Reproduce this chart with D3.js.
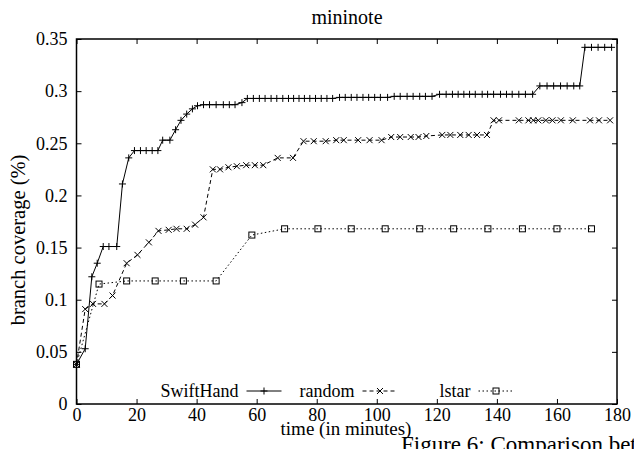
<!DOCTYPE html>
<html><head><meta charset="utf-8">
<script src="https://cdn.jsdelivr.net/npm/d3@7"></script>
<style>body{margin:0;background:#fff}svg{display:block;font-family:"Liberation Serif","Times New Roman",serif}text{font-family:"Liberation Serif","Times New Roman",serif;fill:#000}</style>
</head><body><svg id="c" width="634" height="449"></svg>
<script>
const title = "mininote";
const xLabel = "time (in minutes)";
const yLabel = "branch coverage (%)";
const caption = "Figure 6: Comparison between";
const xTicks = [0,20,40,60,80,100,120,140,160,180];
const yTicks = [0,0.05,0.1,0.15,0.2,0.25,0.3,0.35];
const yTickLabels = ["0","0.05","0.1","0.15","0.2","0.25","0.3","0.35"];
const seriesNames = ["SwiftHand","random","lstar"];

const swiftT = [0,2.9,5.1,6.9,8.9,10.8,13.4,15.3,17.4,19.3,21.3,23.2,25.2,27.1,28.7,31.1,33,34.8,36.7,38.6,40.3,42.3,44.3,46.5,48.9,50.9,52.8,55.1,56.9,
  58.9,60.9,62.8,64.8,66.7,68.7,70.6,72.3,74.1,75.9,77.7,79.6,81.5,83.4,85.3,
  87.6,89.5,91.5,93.4,95.4,97.3,99.3,101.2,103.6,
  105.8,107.8,110.1,112.1,114.3,116.2,118.4,
  120.9,123.1,125.2,127.1,129,130.9,132.8,135.1,136.9,138.9,141.2,143.2,145.1,147.3,149.5,151.9,
  154.3,156.7,158.9,161.2,163.4,165.6,167.6,
  169.3,171.5,173.7,175.9,178.2];
const swiftV = [0.038,0.053,0.122,0.135,0.151,0.151,0.151,0.211,0.236,0.243,0.243,0.243,0.243,0.243,0.253,0.253,0.263,0.272,0.278,0.283,0.286,0.287,0.287,0.287,0.287,0.287,0.287,0.289,0.293,
  0.293,0.293,0.293,0.293,0.293,0.293,0.293,0.293,0.293,0.293,0.293,0.293,0.293,0.293,0.293,
  0.294,0.294,0.294,0.294,0.294,0.294,0.294,0.294,0.294,
  0.295,0.295,0.295,0.295,0.295,0.295,0.295,
  0.297,0.297,0.297,0.297,0.297,0.297,0.297,0.297,0.297,0.297,0.297,0.297,0.297,0.297,0.297,0.297,
  0.305,0.305,0.305,0.305,0.305,0.305,0.305,
  0.342,0.342,0.342,0.342,0.342];

const randT = [0,2.9,5.5,9.3,12,16.7,20.3,24.1,27.3,30.7,33.3,36.7,39.5,42.3,45.4,47.8,50.6,53.4,56.5,59.4,62.2,67,72.1,75.6,79,83,86.5,89,93.8,97.6,101.6,104.8,107.8,111.3,113.9,116.5,121.8,124.5,127.8,130.6,133.4,136.7,138.9,140.7,147.3,150.5,152.1,153.8,156.3,158.5,161.3,165.3,171,174,177.7];
const randV = [0.038,0.091,0.096,0.096,0.104,0.135,0.143,0.155,0.166,0.167,0.168,0.168,0.172,0.179,0.225,0.225,0.227,0.228,0.229,0.229,0.229,0.236,0.236,0.252,0.252,0.252,0.253,0.253,0.253,0.253,0.253,0.256,0.256,0.256,0.256,0.257,0.258,0.258,0.258,0.258,0.258,0.258,0.272,0.272,0.272,0.272,0.272,0.272,0.272,0.272,0.272,0.272,0.272,0.272,0.272];

const lstarT = [0,7.5,16.7,26.2,35.6,46.5,58.4,69.3,80.4,91.5,102.8,114.3,125.6,137,148.5,160,171.5];
const lstarV = [0.038,0.115,0.118,0.118,0.118,0.118,0.162,0.168,0.168,0.168,0.168,0.168,0.168,0.168,0.168,0.168,0.168];

const svg = d3.select("#c");
const L = 76.5, R = 617, T = 39, B = 404;
const x = d3.scaleLinear().domain([0,180]).range([L,R]);
const y = d3.scaleLinear().domain([0,0.35]).range([B,T]);

function styleAxis(g){ g.attr("font-family",null); g.select(".domain").remove(); g.selectAll("line").attr("stroke","#000").attr("stroke-width",1); g.selectAll("text").attr("font-size",18).attr("fill","#000"); }

svg.append("g").attr("transform",`translate(0,${B})`)
  .call(d3.axisBottom(x).tickValues(xTicks).tickSize(-5).tickPadding(4).tickFormat(d3.format("d"))).call(styleAxis);
svg.append("g").attr("transform",`translate(0,${T})`)
  .call(d3.axisTop(x).tickValues(xTicks).tickSize(-5).tickFormat("")).call(styleAxis);
svg.append("g").attr("transform",`translate(${L},0)`)
  .call(d3.axisLeft(y).tickValues(yTicks).tickSize(-5).tickPadding(9).tickFormat((d,i)=>yTickLabels[i])).call(styleAxis);
svg.append("g").attr("transform",`translate(${R},0)`)
  .call(d3.axisRight(y).tickValues(yTicks).tickSize(-5).tickFormat("")).call(styleAxis);

svg.append("rect").attr("x",L).attr("y",T).attr("width",R-L).attr("height",B-T)
  .attr("fill","none").attr("stroke","#000").attr("stroke-width",1.5);

const styles = [
  {name:seriesNames[0], t:swiftT, v:swiftV, dash:null, marker:"plus"},
  {name:seriesNames[1], t:randT, v:randV, dash:"4,3", marker:"cross"},
  {name:seriesNames[2], t:lstarT, v:lstarV, dash:"1.5,2.5", marker:"square"}
];

function drawMarker(g, type, cx, cy){
  if(type==="plus"){
    g.append("path").attr("d",`M${cx-3.5},${cy}H${cx+3.5}M${cx},${cy-3.5}V${cy+3.5}`).attr("stroke","#000").attr("stroke-width",1);
  } else if(type==="cross"){
    g.append("path").attr("d",`M${cx-3},${cy-3}L${cx+3},${cy+3}M${cx-3},${cy+3}L${cx+3},${cy-3}`).attr("stroke","#000").attr("stroke-width",1);
  } else {
    g.append("rect").attr("x",cx-3).attr("y",cy-3).attr("width",6).attr("height",6).attr("fill","none").attr("stroke","#000").attr("stroke-width",1);
  }
}

const line = d3.line().x(d=>x(d[0])).y(d=>y(d[1]));
styles.forEach(s=>{
  const pts = s.t.map((t,i)=>[t,s.v[i]]);
  const g = svg.append("g");
  g.append("path").datum(pts).attr("d",line).attr("fill","none").attr("stroke","#000").attr("stroke-width",1)
    .attr("stroke-dasharray",s.dash);
  pts.forEach(p=>drawMarker(g,s.marker,x(p[0]),y(p[1])));
});

// legend
const legX0 = 238.5, legStep = 116, legY = 391;
styles.forEach((s,i)=>{
  const tx = legX0 + i*legStep;
  svg.append("text").attr("x",tx).attr("y",legY).attr("dy","0.35em").attr("text-anchor","end").attr("font-size",18).text(s.name);
  const g = svg.append("g");
  g.append("line").attr("x1",tx+8).attr("x2",tx+43).attr("y1",legY).attr("y2",legY).attr("stroke","#000").attr("stroke-width",1).attr("stroke-dasharray",s.dash);
  drawMarker(g,s.marker,tx+25.5,legY);
});

svg.append("text").attr("x",347).attr("y",24).attr("text-anchor","middle").attr("font-size",20).text(title);
svg.append("text").attr("x",346).attr("y",435).attr("text-anchor","middle").attr("font-size",19).text(xLabel);
svg.append("text").attr("transform","translate(25,240) rotate(-90)").attr("text-anchor","middle").attr("font-size",20.5).text(yLabel);
svg.append("text").attr("x",401).attr("y",452).attr("font-size",23).text(caption);
</script></body></html>
